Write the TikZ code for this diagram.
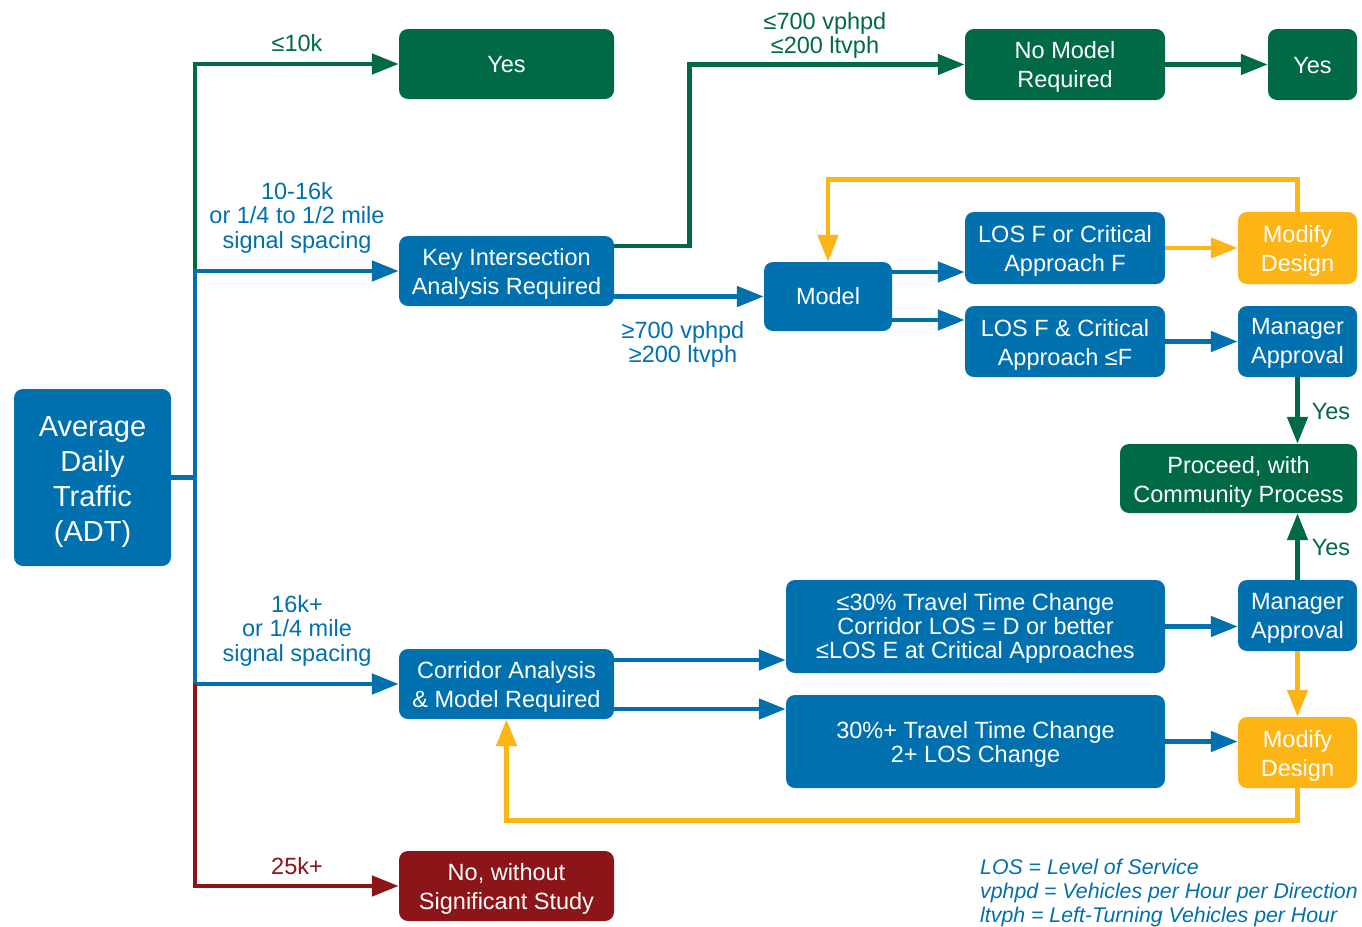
\documentclass[tikz,border=0pt]{standalone}
\usepackage{fontspec}
\setmainfont{Liberation Sans}
\usetikzlibrary{arrows.meta,calc}
\definecolor{cblue}{HTML}{0070AE}
\definecolor{cgreen}{HTML}{006A44}
\definecolor{cred}{HTML}{8B1518}
\definecolor{corange}{HTML}{FDB515}
% \bx{fill style}{name}{x}{y}{w}{h}{text shift down}{text style}{text}
\newcommand{\bx}[9]{%
  \node[#1, minimum width=#5pt, minimum height=#6pt] (#2) at (#3,#4) {};
  \node[boxtext, #8] (#2-t) at ([yshift=-#7pt]#2.center) {#9};}
\begin{document}
\begin{tikzpicture}[x=1pt,y=-1pt,
  box/.style={rectangle, rounded corners=9pt, inner sep=0pt},
  bbox/.style={box, fill=cblue},
  gbox/.style={box, fill=cgreen},
  rbox/.style={box, fill=cred},
  obox/.style={box, fill=corange},
  boxtext/.style={align=center, inner sep=0pt, text=white, font=\fontsize{23.5}{29}\selectfont},
  bigtext/.style={font=\fontsize{29}{35}\selectfont},
  tighttext/.style={font=\fontsize{23.5}{24}\selectfont},
  conn/.style={line width=4.8pt, -{Triangle[length=27pt,width=20pt]}},
  plain/.style={line width=4.8pt},
  lbl/.style={align=center, inner sep=0pt, font=\fontsize{23.5}{24.5}\selectfont},
]
\useasboundingbox[fill=white] (0,0) rectangle (1362,926);

% boxes
\bx{bbox}{adt}{92.5}{477.5}{157}{177}{5}{bigtext}{Average\\Daily\\Traffic\\(ADT)}
\bx{gbox}{yes1}{506.5}{64}{215}{70}{1}{}{Yes}
\bx{bbox}{key}{506.5}{271}{215}{70}{3}{}{Key Intersection\\Analysis Required}
\bx{bbox}{corr}{506.5}{684}{215}{70}{3}{}{Corridor Analysis\\\& Model Required}
\bx{rbox}{no}{506.5}{886}{215}{70}{3}{}{No, without\\Significant Study}
\bx{gbox}{nomodel}{1065}{64.5}{200}{71}{2.5}{}{No Model\\Required}
\bx{gbox}{yes2}{1312.5}{64.5}{89}{71}{1}{}{Yes}
\bx{bbox}{model}{828}{296.5}{128}{69}{0}{}{Model}
\bx{bbox}{los1}{1065}{248}{200}{72}{3}{}{LOS F or Critical\\Approach F}
\bx{bbox}{los2}{1065}{341.5}{200}{71}{3}{}{LOS F \& Critical\\Approach ≤F}
\bx{obox}{mod1}{1297.5}{248}{119}{72}{3}{}{Modify\\Design}
\bx{bbox}{mgr1}{1297.5}{341.5}{119}{71}{2}{}{Manager\\Approval}
\bx{gbox}{proc}{1238.5}{478.5}{237}{69}{3}{}{Proceed, with\\Community Process}
\bx{bbox}{mgr2}{1297.5}{615.5}{119}{71}{2.5}{}{Manager\\Approval}
\bx{obox}{mod2}{1297.5}{752.5}{119}{71}{3}{}{Modify\\Design}
\bx{bbox}{tt1}{975.5}{626.5}{379}{93}{1.5}{tighttext}{≤30\% Travel Time Change\\Corridor LOS = D or better\\≤LOS E at Critical Approaches}
\bx{bbox}{tt2}{975.5}{741.5}{379}{93}{2.5}{tighttext}{30\%+ Travel Time Change\\2+ LOS Change}

% trunk coordinates
\coordinate (tm) at (195,477.5);
\coordinate (t1) at (195,270);
\coordinate (t2) at (195,684);

% connectors from trunk
\draw[conn, cgreen] (t1) |- (yes1.west);
\draw[plain, cblue] (adt.east) -- (tm);
\draw[conn, cblue] (t2) |- (key.west);
\draw[conn, cblue] (t2) -- (corr.west);
\draw[conn, cred] (t2) |- (no.west);

% key branch
\draw[conn, cgreen] ([yshift=25pt]key.east) -- ++(75,0) |- (nomodel.west);
\draw[conn, cgreen] (nomodel.east) -- (yes2.west);
\draw[conn, cblue] ([yshift=-25.5pt]key.east) -- (model.west);
\draw[conn, cblue] ([yshift=24.5pt]model.east) -- ([yshift=-24pt]los1.west);
\draw[conn, cblue] ([yshift=-23.5pt]model.east) -- ([yshift=21.5pt]los2.west);
\draw[conn, corange] (los1.east) -- (mod1.west);
\draw[conn, corange] (mod1.north) -- ++(0,-32) -| (model.north);
\draw[conn, cblue] (los2.east) -- (mgr1.west);
\draw[conn, cgreen] (mgr1.south) -- (mgr1.south |- proc.north);
\draw[conn, cgreen] (mgr2.north) -- (mgr2.north |- proc.south);
\draw[conn, corange] (mgr2.south) -- (mod2.north);

% corridor branch
\draw[conn, cblue] ([yshift=24pt]corr.east) -- ([yshift=-33.5pt]tt1.west);
\draw[conn, cblue] ([yshift=-25pt]corr.east) -- ([yshift=32.5pt]tt2.west);
\draw[conn, cblue] (tt1.east) -- (tt1.east -| mgr2.west);
\draw[conn, cblue] (tt2.east) -- (tt2.east -| mod2.west);
\draw[conn, corange] (mod2.south) -- ++(0,32) -| (corr.south);

% labels
\node[lbl, text=cgreen] (l10) at (297,43) {≤10k};
\node[lbl, text=cblue] (l16) at (297,217.5) {10-16k\\or 1/4 to 1/2 mile\\signal spacing};
\node[lbl, text=cblue] (l16p) at (297,630.5) {16k+\\or 1/4 mile\\signal spacing};
\node[lbl, text=cred] (l25) at (297,866) {25k+};
\node[lbl, text=cgreen] (lle) at (825,35.5) {≤700 vphpd\\≤200 ltvph};
\node[lbl, text=cblue] (lge) at (683,344.5) {≥700 vphpd\\≥200 ltvph};
\node[lbl, text=cgreen] (y1) at (1331,412) {Yes};
\node[lbl, text=cgreen] (y2) at (1331,548) {Yes};
\node[align=left, anchor=west, inner sep=0pt, text=cblue, font=\fontsize{21.3}{24}\selectfont\itshape] (leg) at (980,893)
  {LOS = Level of Service\\vphpd = Vehicles per Hour per Direction\\ltvph = Left-Turning Vehicles per Hour};
\end{tikzpicture}
\end{document}
